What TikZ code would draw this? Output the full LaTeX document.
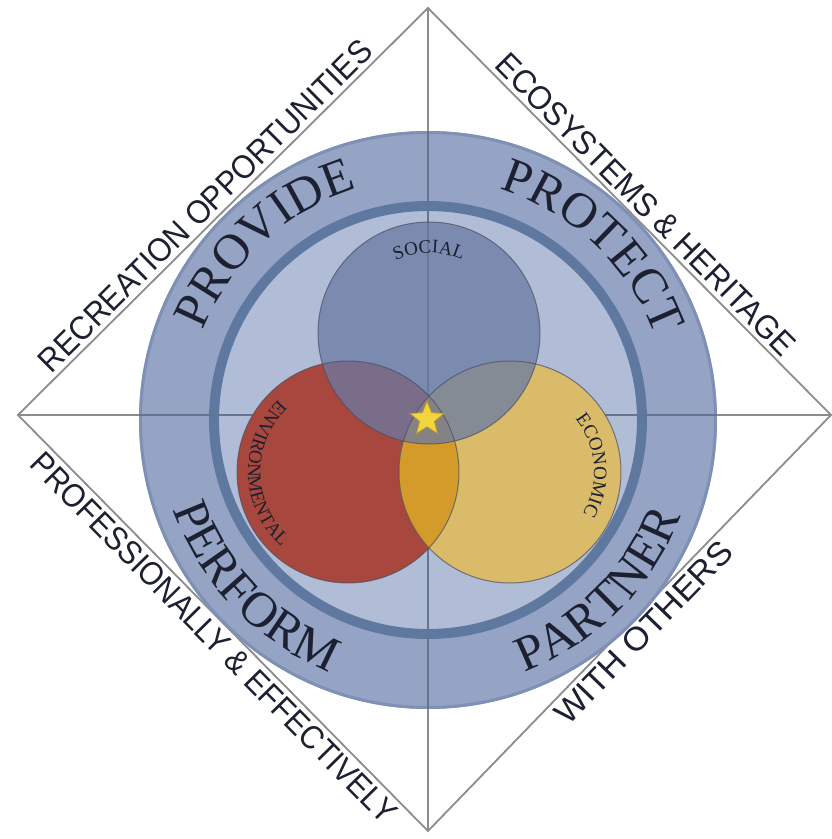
\documentclass[tikz,border=0pt]{standalone}
\usepackage{fontspec}
\setmainfont{Liberation Serif}
\newfontfamily\labfont{Liberation Sans}
\newfontfamily\bigfont{Liberation Serif}
\newfontfamily\smallfont[LetterSpace=10]{Liberation Serif}
\usetikzlibrary{decorations.text,shapes.geometric}
\definecolor{linegray}{HTML}{8C8C8C}
\definecolor{xlinec}{HTML}{66758F}
\definecolor{bandc}{HTML}{95A4C5}
\definecolor{edgec}{HTML}{7E90B4}
\definecolor{innerc}{HTML}{B1BDD7}
\definecolor{ringc}{HTML}{5E789F}
\definecolor{socc}{HTML}{6A7BA4}
\definecolor{redc}{HTML}{A8473D}
\definecolor{yelc}{HTML}{D9BB6A}
\definecolor{orac}{HTML}{D49A2A}
\definecolor{starc}{HTML}{F2D43C}
\definecolor{stard}{HTML}{B8962A}
\definecolor{txt}{HTML}{1C2030}
\definecolor{vout}{HTML}{4A4E60}
\newcommand\bigwordfont{\bigfont\fontsize{50}{50}\selectfont}
\newcommand\smallwordfont{\smallfont\fontsize{19}{19}\selectfont}
\tikzset{
  diag/.style={draw=linegray, line width=1.8},
  xline/.style={draw=xlinec, line width=1.8},
  outerlab/.style={inner sep=0, outer sep=0, text=txt, font=\labfont},
  arcword/.style={decorate, decoration={text along path, text align=center, text color=txt, text={#1}}},
  vennline/.style={draw=vout, line width=1, opacity=0.7},
}
\begin{document}
\begin{tikzpicture}[x=1pt,y=1pt]
\useasboundingbox (-428,-419) rectangle (403,420);
\coordinate (T) at (0,412);
\coordinate (L) at (-410,5);
\coordinate (R) at (403,5);
\coordinate (B) at (0,-411);
\coordinate (O) at (0,0);
\coordinate (S) at (1,87);
\coordinate (Rc) at (-80,-52);
\coordinate (Yc) at (82,-52);
% diamond and cross
\draw[diag] (T) -- (R) -- (B) -- (L) -- cycle;
\draw[diag] (T) -- (B);
\draw[diag] (L) -- (R);
% big disk
\fill[bandc] (O) circle (289);
\draw[edgec, line width=3] (O) circle (287.5);
\fill[innerc] (O) circle (214);
\draw[ringc, line width=10] (O) circle (214);
\begin{scope}
  \clip (O) circle (289);
  \draw[xline] (T) -- (B);
  \draw[xline] (L) -- (R);
\end{scope}
% venn
\fill[redc] (Rc) circle (111);
\fill[yelc] (Yc) circle (111);
\begin{scope}
  \clip (Rc) circle (111);
  \fill[orac] (Yc) circle (111);
\end{scope}
\fill[socc, opacity=0.75] (S) circle (111);
\draw[vennline] (Rc) circle (111);
\draw[vennline] (Yc) circle (111);
\draw[vennline] (S) circle (111);
\node[star, star points=5, star point ratio=2.3, minimum size=36, inner sep=0, fill=starc, draw=stard, line width=0.8] (st) at (-1,1) {};
% ring words
\path[arcword={|\bigwordfont|PROVIDE}] (192.7:242) arc[start angle=192.7, end angle=72.7, radius=242];
\path[arcword={|\bigwordfont|PROTECT}] (106.5:242) arc[start angle=106.5, end angle=-13.5, radius=242];
\path[arcword={|\bigwordfont|PERFORM}] (164:270) arc[start angle=164, end angle=284, radius=270];
\path[arcword={|\bigwordfont|PARTNER}] (255:270) arc[start angle=255, end angle=375, radius=270];
% venn words
\path[arcword={|\smallwordfont|SOCIAL}] ([shift={(S)}]150:80) arc[start angle=150, end angle=30, radius=80];
\path[arcword={|\smallwordfont|ENVIRONMENTAL}] ([shift={(Rc)}]91:100) arc[start angle=91, end angle=271, radius=100];
\path[arcword={|\smallwordfont|ECONOMIC}] ([shift={(Yc)}]94.5:84) arc[start angle=94.5, end angle=-85.5, radius=84];
% outer labels
\node[outerlab, rotate=44.8, anchor=south] (rec) at (-214.7,206) {\resizebox{455pt}{23pt}{RECREATION OPPORTUNITIES}};
\node[outerlab, rotate=-45.3, anchor=south] (eco) at (209.5,207.5) {\resizebox{410pt}{23pt}{ECOSYSTEMS \& HERITAGE}};
\node[outerlab, rotate=-45.4, anchor=north] (pro) at (-205.7,-209.4) {\resizebox{505pt}{23pt}{PROFESSIONALLY \& EFFECTIVELY}};
\node[outerlab, rotate=45.9, anchor=north] (wit) at (207.1,-204.4) {\resizebox{240pt}{23pt}{WITH OTHERS}};
\end{tikzpicture}
\end{document}
